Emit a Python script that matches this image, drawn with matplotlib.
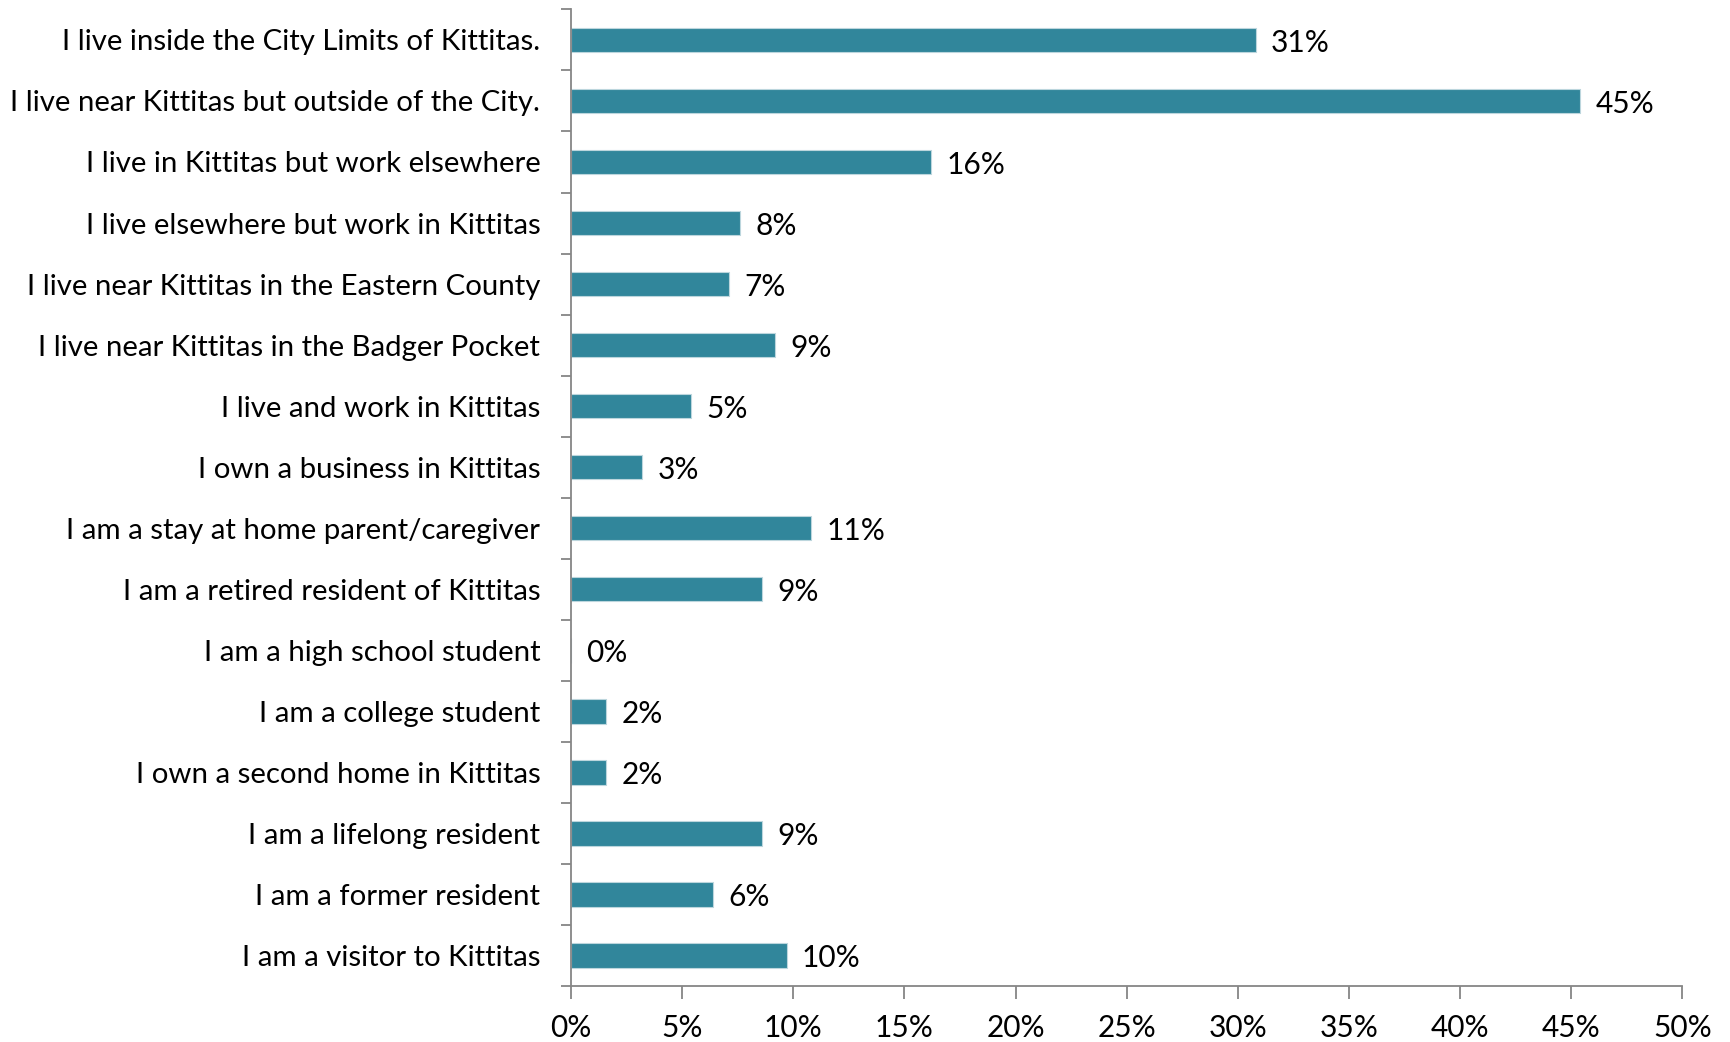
import numpy as np
import matplotlib.pyplot as plt
from matplotlib.ticker import FuncFormatter

categories = [
    'I live inside the City Limits of Kittitas.',
    'I live near Kittitas but outside of the City.',
    'I live in Kittitas but work elsewhere',
    'I live elsewhere but work in Kittitas',
    'I live near Kittitas in the Eastern County',
    'I live near Kittitas in the Badger Pocket',
    'I live and work in Kittitas',
    'I own a business in Kittitas',
    'I am a stay at home parent/caregiver',
    'I am a retired resident of Kittitas',
    'I am a high school student',
    'I am a college student',
    'I own a second home in Kittitas',
    'I am a lifelong resident',
    'I am a former resident',
    'I am a visitor to Kittitas',
]
# share of respondents, percent
shares = [30.8, 45.4, 16.2, 7.6, 7.1, 9.2, 5.4, 3.2, 10.8, 8.6, 0.0, 1.6, 1.6, 8.6, 6.4, 9.7]
x_ticks = [0, 5, 10, 15, 20, 25, 30, 35, 40, 45, 50]

plt.rcParams['font.family'] = ['Lato', 'DejaVu Sans']

fig = plt.figure(figsize=(17.3, 10.42), dpi=100)
ax = fig.add_axes([0.330, 0.0537, 0.6425, 0.9373])

y = np.arange(len(categories))
ax.barh(y, shares, height=0.4, color='#31869b', edgecolor='#bcd6dd', linewidth=0.8)
for yi, v in zip(y, shares):
    ax.annotate('%.0f%%' % v, (v, yi), xytext=(11, -2), textcoords='offset points',
                va='center', ha='left', fontsize=21.5)

ax.set_ylim(len(categories) - 0.5, -0.5)
ax.set_xlim(0, 50)
ax.set_yticks(y)
ax.set_yticklabels(categories, fontsize=21.2)
ax.set_yticks(np.arange(len(categories) + 1) - 0.5, minor=True)
ax.tick_params(axis='y', which='major', length=0, pad=22)
ax.tick_params(axis='y', which='minor', length=7, width=1.3, color='#868686')
ax.set_xticks(x_ticks)
ax.xaxis.set_major_formatter(FuncFormatter(lambda v, p: '%d%%' % v))
ax.tick_params(axis='x', length=9, width=1.3, color='#868686', labelsize=21.5, pad=11)

for s in ['top', 'right']:
    ax.spines[s].set_visible(False)
for s in ['left', 'bottom']:
    ax.spines[s].set_color('#868686')
    ax.spines[s].set_linewidth(1.3)

fig.savefig('out.png', dpi=100)
